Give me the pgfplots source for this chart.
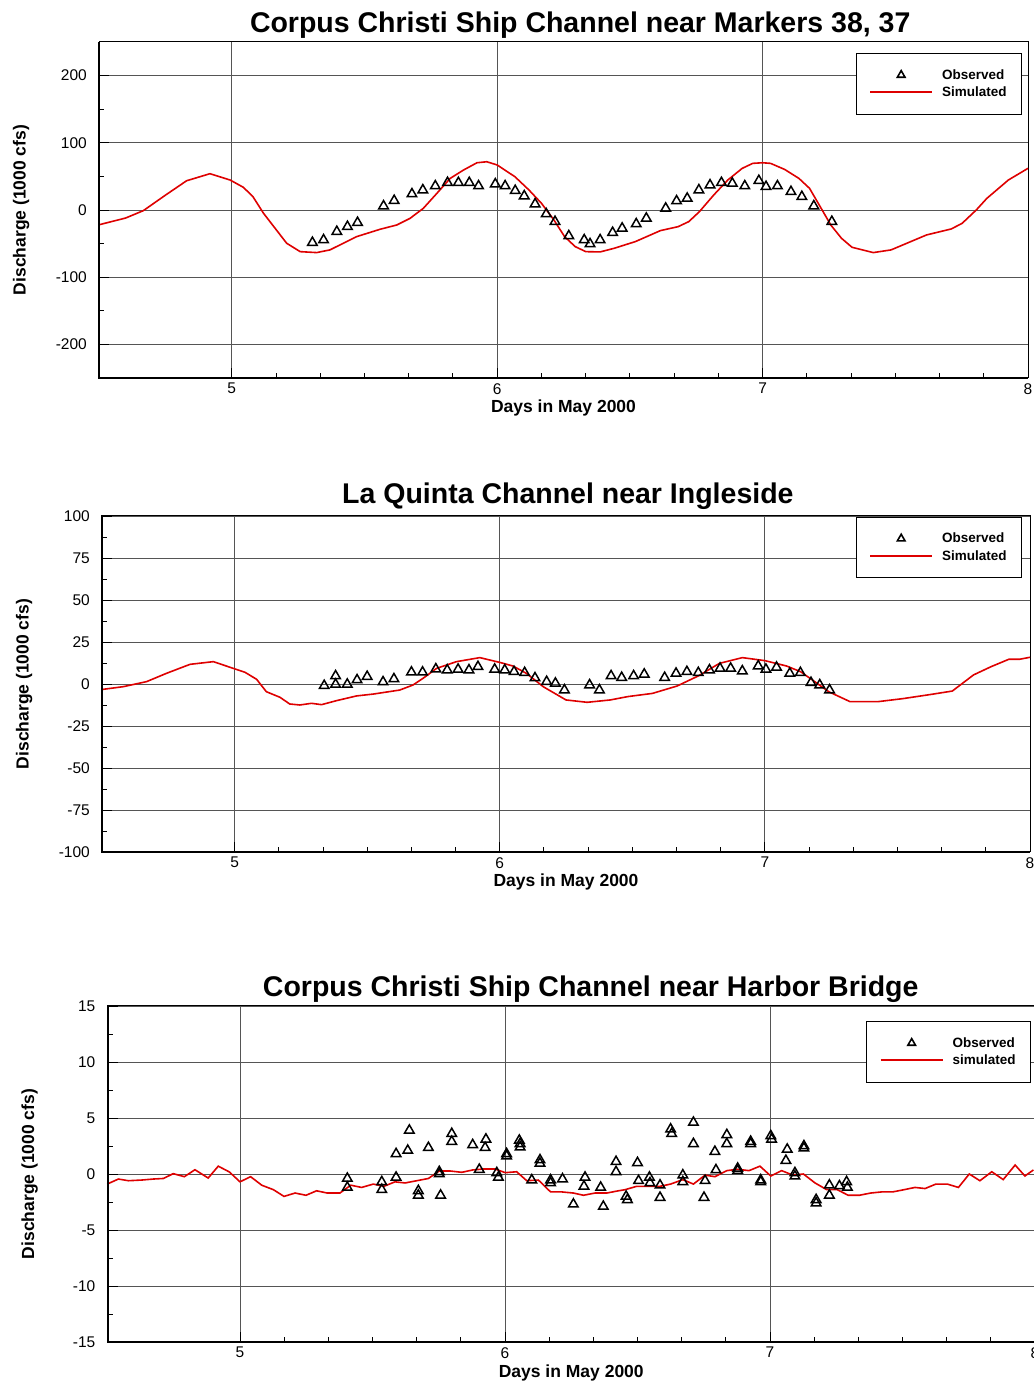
\documentclass[border=0pt]{standalone}
\usepackage{fontspec}
\setmainfont{Liberation Sans}
\usepackage{pgfplots}
\pgfplotsset{compat=1.18}
\definecolor{simred}{RGB}{222,0,0}
\definecolor{gridgray}{RGB}{85,85,85}

\pgfplotsset{
  panel/.style={
    scale only axis, anchor=south west, height=336pt, clip=false,
    xmin=4.5, xmax=8, xtick={5,6,7,8}, minor x tick num=5,
    tick pos=left, tick align=inside,
    major tick length=10pt, minor tick length=5pt,
    every tick/.style={black, line width=0.9pt},
    xmajorgrids, ymajorgrids,
    major grid style={gridgray, line width=0.9pt},
    axis line style={black, line width=1pt},
    /pgf/number format/assume math mode=true,
    ticklabel style={font=\fontsize{15.5}{16}\selectfont},
    yticklabel style={anchor=east, inner sep=0pt, xshift=-12pt},
    xticklabel style={anchor=north, inner sep=0pt, yshift=-5pt},
    xlabel={Days in May 2000}, ylabel={Discharge (1000 cfs)},
    label style={font=\bfseries\fontsize{17.5}{18}\selectfont},
    xlabel style={at={(axis description cs:0.5,0)}, anchor=base, yshift=-35pt},
    title style={font=\bfseries\fontsize{28.5}{30}\selectfont, anchor=base, yshift=3pt},
    legend cell align=left,
    legend image code/.code={\draw[mark repeat=2, mark phase=2, ##1]
      plot coordinates {(0pt,0pt) (31pt,0pt) (62pt,0pt)};},
    legend style={at={(1,1)}, anchor=north east, line width=0.8pt,
      fill=white, inner xsep=13pt, inner ysep=14pt, column sep=7pt, row sep=2pt,
      font=\bfseries\fontsize{13.5}{14}\selectfont,
      nodes={inner sep=2pt, text depth=0.15em},
      append after command={[draw=black!85, line width=0.8pt]
        (\tikzlastnode.south west) rectangle (\tikzlastnode.north east)}},
  },
  sim/.style={color=simred, draw=simred, line width=1.6pt, no markers},
  simleg/.style={color=simred, draw=simred, line width=1.8pt, no markers},
  obs/.style={only marks, mark=triangle, mark size=5.5pt,
    mark options={black, line width=1.5pt}},
  obsleg/.style={only marks, mark=triangle, mark size=4.4pt,
    mark options={black, line width=1.6pt}},
}

\begin{document}
\begin{tikzpicture}
\useasboundingbox (0,0) rectangle (1034pt,1385pt);
\clip (0,0) rectangle (1034pt,1385pt);

% ---------- Markers 38, 37
\begin{axis}[panel, at={(99pt,1007pt)}, width=929pt,
  ymin=-250, ymax=250, ytick={-200,-100,0,100,200}, minor y tick num=1,
  title={Corpus Christi Ship Channel near Markers 38, 37},
  title style={at={(axis description cs:0.518,1)}},
  ylabel style={at={(axis description cs:-0.079,0.5)}, anchor=base},
  legend style={xshift=-6pt, yshift=-11pt}]
\addlegendimage{obsleg}
\addlegendentry{Observed}
\addlegendimage{simleg}
\addlegendentry{Simulated}
\addplot[obs, forget plot] table {
x y
5.304 -48.5
5.346 -44.6
5.396 -32.2
5.436 -24.8
5.474 -18.8
5.572 5.9
5.612 13.9
5.679 23.8
5.720 29.7
5.767 35.7
5.813 40.6
5.854 40.6
5.895 40.6
5.930 35.7
5.993 38.6
6.030 35.7
6.068 28.7
6.102 20.8
6.143 8.9
6.185 -5.9
6.218 -17.3
6.270 -38.6
6.328 -44.6
6.350 -50.5
6.388 -44.6
6.435 -33.7
6.471 -27.2
6.524 -20.8
6.562 -12.4
6.635 2.5
6.676 13.4
6.716 17.3
6.760 29.7
6.802 37.1
6.845 40.6
6.886 39.6
6.933 35.7
6.986 43.6
7.013 34.7
7.056 35.7
7.107 27.2
7.148 19.8
7.193 5.9
7.261 -17.3
};
\addplot[sim, forget plot] table {
x y
4.500 -22
4.600 -12
4.667 -1
4.750 22
4.830 43.5
4.918 54
4.994 44.6
5.044 33.7
5.080 19.8
5.120 -5
5.207 -49.5
5.258 -62
5.320 -63.4
5.370 -59.4
5.471 -39.6
5.559 -28.7
5.622 -22.3
5.672 -12.4
5.722 2.5
5.773 24.8
5.823 47
5.873 59.4
5.924 70.3
5.961 71.8
6.000 67
6.067 49.5
6.120 29.7
6.167 9.9
6.214 -14.9
6.254 -39.6
6.294 -54.5
6.334 -62
6.388 -62.4
6.441 -57
6.521 -47
6.615 -30.7
6.682 -24.8
6.722 -17.3
6.762 -2.5
6.816 22.3
6.869 44.6
6.923 61.9
6.963 69.4
7.000 70.3
7.030 69.4
7.083 60.4
7.137 47
7.177 32.2
7.217 5
7.257 -22.3
7.297 -42
7.337 -55.5
7.417 -63.4
7.484 -59.4
7.618 -37.1
7.711 -28.2
7.752 -19.8
7.805 0
7.845 17.3
7.926 44.6
8.000 62
};
\draw[line width=2pt] (rel axis cs:0,1) -- (rel axis cs:0,0) -- (rel axis cs:1,0);
\end{axis}

% ---------- La Quinta
\begin{axis}[panel, at={(102pt,533pt)}, width=928pt,
  ymin=-100, ymax=100, ytick={-100,-75,...,100}, minor y tick num=1,
  title={La Quinta Channel near Ingleside},
  title style={at={(axis description cs:0.502,1)}, yshift=3pt},
  ylabel style={at={(axis description cs:-0.079,0.5)}, anchor=base},
  legend style={xshift=-8pt, yshift=-0.6pt}]
\addlegendimage{obsleg}
\addlegendentry{Observed}
\addlegendimage{simleg}
\addlegendentry{Simulated}
\addplot[obs, forget plot] table {
x y
5.338 -1
5.381 4.8
5.381 -0.2
5.425 -0.2
5.462 2.4
5.500 4.4
5.560 1.2
5.601 3
5.667 7
5.709 7
5.759 8.9
5.802 8.3
5.843 8.7
5.884 8.3
5.918 10.3
5.981 8.7
6.019 8.3
6.054 7.3
6.094 6.7
6.133 3.6
6.177 1.4
6.210 0.4
6.244 -3.6
6.339 -0.6
6.376 -3.6
6.420 4.8
6.460 3.8
6.505 4.8
6.545 5.8
6.622 3.8
6.665 6.3
6.706 7.3
6.749 6.7
6.791 8.3
6.831 9.3
6.871 9.3
6.915 7.7
6.975 10.7
7.004 8.7
7.044 9.9
7.094 6.3
7.134 6.7
7.174 0.8
7.207 -0.6
7.244 -3.6
};
\addplot[sim, forget plot] table {
x y
4.503 -3.2
4.580 -1.6
4.668 1.4
4.744 6.4
4.832 11.7
4.920 13.3
4.995 9.3
5.039 7
5.083 2.8
5.120 -4.6
5.171 -7.9
5.208 -11.9
5.246 -12.5
5.290 -11.5
5.328 -12.3
5.385 -9.9
5.460 -7.1
5.523 -6
5.623 -3.6
5.673 -0.6
5.711 3.4
5.762 9.3
5.837 13.3
5.925 15.7
6.004 12.7
6.050 10.7
6.100 6.4
6.145 0.8
6.164 -1.6
6.250 -9.5
6.330 -10.9
6.417 -9.5
6.483 -7.5
6.576 -5.6
6.669 -1.2
6.749 4.8
6.829 12.3
6.915 15.7
7.000 13.9
7.082 10.7
7.135 7.3
7.188 1.4
7.241 -4.6
7.321 -10.5
7.427 -10.5
7.521 -8.7
7.627 -6.2
7.707 -4.2
7.787 5.4
7.853 10.3
7.920 14.7
7.960 14.7
8.000 15.9
};
\draw[line width=2pt] (rel axis cs:0,1) -- (rel axis cs:0,0) -- (rel axis cs:1,0);
\end{axis}

% ---------- Harbor Bridge
\begin{axis}[panel, at={(107.5pt,43pt)}, width=927.5pt,
  ymin=-15, ymax=15, ytick={-15,-10,...,15}, minor y tick num=1,
  title={Corpus Christi Ship Channel near Harbor Bridge},
  title style={at={(axis description cs:0.521,1)}},
  ylabel style={at={(axis description cs:-0.079,0.5)}, anchor=base},
  legend style={xshift=-4pt, yshift=-15pt}]
\addlegendimage{obsleg}
\addlegendentry{Observed}
\addlegendimage{simleg}
\addlegendentry{simulated}
\addplot[obs, forget plot] table {
x y
5.405 -0.4
5.405 -1.2
5.535 -0.7
5.535 -1.4
5.589 1.8
5.589 -0.3
5.633 2.1
5.639 3.9
5.673 -1.5
5.673 -1.9
5.711 2.35
5.752 0.2
5.752 0
5.757 -1.9
5.799 3.6
5.799 2.9
5.878 2.6
5.903 0.4
5.928 3.1
5.925 2.35
5.969 0.1
5.975 -0.3
6.006 1.8
6.006 1.6
6.054 3.0
6.057 2.7
6.057 2.4
6.101 -0.54
6.132 1.25
6.132 0.95
6.172 -0.54
6.172 -0.8
6.217 -0.45
6.258 -2.7
6.302 -0.3
6.298 -1.1
6.361 -1.2
6.371 -2.9
6.419 1.1
6.419 0.2
6.457 -2.0
6.462 -2.3
6.500 1.0
6.504 -0.6
6.545 -0.3
6.547 -0.8
6.585 -1.0
6.585 -2.1
6.625 4.0
6.629 3.6
6.671 -0.1
6.671 -0.7
6.711 4.6
6.711 2.7
6.755 -0.6
6.751 -2.1
6.792 2.0
6.796 0.36
6.837 3.5
6.837 2.7
6.878 0.5
6.878 0.3
6.927 2.9
6.927 2.7
6.965 -0.54
6.965 -0.7
7.003 3.4
7.006 3.1
7.065 2.2
7.060 1.2
7.094 0.1
7.094 -0.2
7.128 2.5
7.128 2.3
7.174 -2.3
7.174 -2.6
7.224 -1.0
7.224 -1.9
7.262 -1.07
7.289 -0.7
7.292 -1.2
};
\addplot[sim, forget plot] table {
x y
4.499 -0.9
4.541 -0.45
4.579 -0.6
4.629 -0.54
4.673 -0.45
4.711 -0.4
4.748 0.03
4.790 -0.24
4.830 0.38
4.880 -0.36
4.918 0.7
4.960 0.18
5.000 -0.7
5.040 -0.24
5.082 -1
5.126 -1.4
5.166 -2
5.208 -1.7
5.249 -1.9
5.289 -1.5
5.329 -1.7
5.377 -1.7
5.418 -1
5.459 -1.2
5.503 -0.9
5.543 -1.1
5.585 -0.7
5.623 -0.8
5.667 -0.6
5.711 -0.4
5.752 0.27
5.792 0.27
5.837 0.15
5.878 0.36
5.921 0.45
5.962 0.45
6.001 0.12
6.044 0.2
6.082 -0.6
6.126 -0.54
6.172 -1.6
6.214 -1.6
6.258 -1.7
6.296 -1.9
6.340 -1.7
6.384 -1.7
6.428 -1.5
6.453 -1.4
6.497 -1.1
6.541 -1.1
6.585 -1.1
6.625 -0.9
6.671 -0.5
6.711 -0.9
6.755 -0.1
6.792 -0.24
6.837 0.3
6.877 0.42
6.921 0.3
6.962 0.7
7.003 -0.18
7.044 0.3
7.086 -0.1
7.126 0
7.170 -0.8
7.214 -1.4
7.254 -1.4
7.295 -1.9
7.337 -1.9
7.380 -1.7
7.421 -1.6
7.463 -1.6
7.506 -1.4
7.547 -1.2
7.585 -1.3
7.626 -0.9
7.669 -0.9
7.711 -1.2
7.752 0
7.792 -0.6
7.837 0.2
7.880 -0.5
7.925 0.8
7.962 -0.18
7.994 0.36
};
\draw[line width=2pt] (rel axis cs:0,1) -- (rel axis cs:0,0) -- (rel axis cs:1,0);
\end{axis}
\end{tikzpicture}
\end{document}
